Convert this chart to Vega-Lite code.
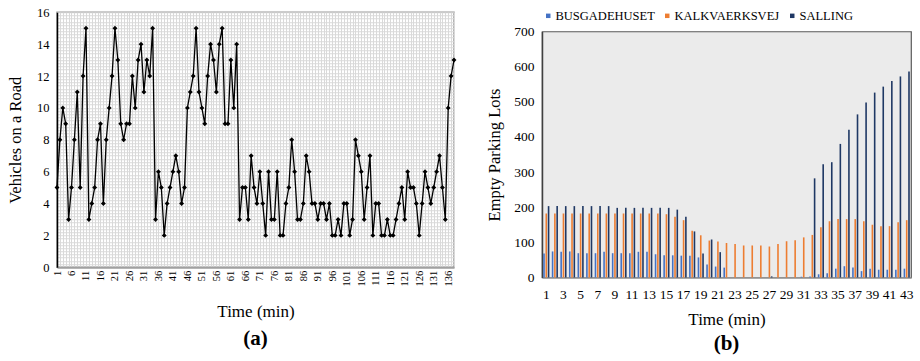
{
  "$schema": "https://vega.github.io/schema/vega-lite/v6.json",
  "background": "white",
  "padding": {"left": 6, "top": 5, "right": 5, "bottom": 1},
  "resolve": {"legend": {"color": "independent"}},
  "center": true,
  "spacing": 25,
  "config": {
    "font": "Liberation Serif",
    "axis": {"labelFont": "Liberation Serif", "titleFont": "Liberation Serif", "labelColor": "#000", "titleColor": "#000", "titleFontWeight": "normal"},
    "legend": {"labelFont": "Liberation Serif"}
  },
  "datasets": {
    "vehicles": [
      {"t":1,"v":5},{"t":2,"v":8},{"t":3,"v":10},{"t":4,"v":9},{"t":5,"v":3},{"t":6,"v":5},{"t":7,"v":8},{"t":8,"v":11},{"t":9,"v":5},{"t":10,"v":12},
      {"t":11,"v":15},{"t":12,"v":3},{"t":13,"v":4},{"t":14,"v":5},{"t":15,"v":8},{"t":16,"v":9},{"t":17,"v":4},{"t":18,"v":8},{"t":19,"v":10},{"t":20,"v":12},
      {"t":21,"v":15},{"t":22,"v":13},{"t":23,"v":9},{"t":24,"v":8},{"t":25,"v":9},{"t":26,"v":9},{"t":27,"v":12},{"t":28,"v":10},{"t":29,"v":13},{"t":30,"v":14},
      {"t":31,"v":11},{"t":32,"v":13},{"t":33,"v":12},{"t":34,"v":15},{"t":35,"v":3},{"t":36,"v":6},{"t":37,"v":5},{"t":38,"v":2},{"t":39,"v":4},{"t":40,"v":5},
      {"t":41,"v":6},{"t":42,"v":7},{"t":43,"v":6},{"t":44,"v":4},{"t":45,"v":5},{"t":46,"v":10},{"t":47,"v":11},{"t":48,"v":12},{"t":49,"v":15},{"t":50,"v":11},
      {"t":51,"v":10},{"t":52,"v":9},{"t":53,"v":12},{"t":54,"v":14},{"t":55,"v":13},{"t":56,"v":11},{"t":57,"v":14},{"t":58,"v":15},{"t":59,"v":9},{"t":60,"v":9},
      {"t":61,"v":13},{"t":62,"v":10},{"t":63,"v":14},{"t":64,"v":3},{"t":65,"v":5},{"t":66,"v":5},{"t":67,"v":3},{"t":68,"v":7},{"t":69,"v":5},{"t":70,"v":4},
      {"t":71,"v":6},{"t":72,"v":4},{"t":73,"v":2},{"t":74,"v":6},{"t":75,"v":3},{"t":76,"v":3},{"t":77,"v":6},{"t":78,"v":2},{"t":79,"v":2},{"t":80,"v":4},
      {"t":81,"v":5},{"t":82,"v":8},{"t":83,"v":6},{"t":84,"v":3},{"t":85,"v":3},{"t":86,"v":4},{"t":87,"v":7},{"t":88,"v":6},{"t":89,"v":4},{"t":90,"v":4},
      {"t":91,"v":3},{"t":92,"v":4},{"t":93,"v":4},{"t":94,"v":3},{"t":95,"v":4},{"t":96,"v":2},{"t":97,"v":2},{"t":98,"v":3},{"t":99,"v":2},{"t":100,"v":4},
      {"t":101,"v":4},{"t":102,"v":2},{"t":103,"v":3},{"t":104,"v":8},{"t":105,"v":7},{"t":106,"v":6},{"t":107,"v":3},{"t":108,"v":5},{"t":109,"v":7},{"t":110,"v":2},
      {"t":111,"v":4},{"t":112,"v":4},{"t":113,"v":2},{"t":114,"v":2},{"t":115,"v":3},{"t":116,"v":2},{"t":117,"v":2},{"t":118,"v":3},{"t":119,"v":4},{"t":120,"v":5},
      {"t":121,"v":3},{"t":122,"v":6},{"t":123,"v":5},{"t":124,"v":5},{"t":125,"v":4},{"t":126,"v":2},{"t":127,"v":4},{"t":128,"v":6},{"t":129,"v":5},{"t":130,"v":4},
      {"t":131,"v":5},{"t":132,"v":6},{"t":133,"v":7},{"t":134,"v":5},{"t":135,"v":3},{"t":136,"v":10},{"t":137,"v":12},{"t":138,"v":13}
    ],
    "parking": [
      {"t":1,"lot":"BUSGADEHUSET","n":68},{"t":1,"lot":"KALKVAERKSVEJ","n":182},{"t":1,"lot":"SALLING","n":203},
      {"t":2,"lot":"BUSGADEHUSET","n":74},{"t":2,"lot":"KALKVAERKSVEJ","n":182},{"t":2,"lot":"SALLING","n":203},
      {"t":3,"lot":"BUSGADEHUSET","n":73},{"t":3,"lot":"KALKVAERKSVEJ","n":182},{"t":3,"lot":"SALLING","n":203},
      {"t":4,"lot":"BUSGADEHUSET","n":74},{"t":4,"lot":"KALKVAERKSVEJ","n":182},{"t":4,"lot":"SALLING","n":203},
      {"t":5,"lot":"BUSGADEHUSET","n":69},{"t":5,"lot":"KALKVAERKSVEJ","n":182},{"t":5,"lot":"SALLING","n":203},
      {"t":6,"lot":"BUSGADEHUSET","n":69},{"t":6,"lot":"KALKVAERKSVEJ","n":182},{"t":6,"lot":"SALLING","n":203},
      {"t":7,"lot":"BUSGADEHUSET","n":69},{"t":7,"lot":"KALKVAERKSVEJ","n":182},{"t":7,"lot":"SALLING","n":203},
      {"t":8,"lot":"BUSGADEHUSET","n":73},{"t":8,"lot":"KALKVAERKSVEJ","n":182},{"t":8,"lot":"SALLING","n":203},
      {"t":9,"lot":"BUSGADEHUSET","n":69},{"t":9,"lot":"KALKVAERKSVEJ","n":182},{"t":9,"lot":"SALLING","n":198},
      {"t":10,"lot":"BUSGADEHUSET","n":69},{"t":10,"lot":"KALKVAERKSVEJ","n":182},{"t":10,"lot":"SALLING","n":198},
      {"t":11,"lot":"BUSGADEHUSET","n":69},{"t":11,"lot":"KALKVAERKSVEJ","n":182},{"t":11,"lot":"SALLING","n":198},
      {"t":12,"lot":"BUSGADEHUSET","n":73},{"t":12,"lot":"KALKVAERKSVEJ","n":182},{"t":12,"lot":"SALLING","n":198},
      {"t":13,"lot":"BUSGADEHUSET","n":73},{"t":13,"lot":"KALKVAERKSVEJ","n":182},{"t":13,"lot":"SALLING","n":198},
      {"t":14,"lot":"BUSGADEHUSET","n":66},{"t":14,"lot":"KALKVAERKSVEJ","n":182},{"t":14,"lot":"SALLING","n":198},
      {"t":15,"lot":"BUSGADEHUSET","n":63},{"t":15,"lot":"KALKVAERKSVEJ","n":180},{"t":15,"lot":"SALLING","n":198},
      {"t":16,"lot":"BUSGADEHUSET","n":63},{"t":16,"lot":"KALKVAERKSVEJ","n":173},{"t":16,"lot":"SALLING","n":193},
      {"t":17,"lot":"BUSGADEHUSET","n":62},{"t":17,"lot":"KALKVAERKSVEJ","n":163},{"t":17,"lot":"SALLING","n":173},
      {"t":18,"lot":"BUSGADEHUSET","n":62},{"t":18,"lot":"KALKVAERKSVEJ","n":133},{"t":18,"lot":"SALLING","n":131},
      {"t":19,"lot":"BUSGADEHUSET","n":57},{"t":19,"lot":"KALKVAERKSVEJ","n":120},{"t":19,"lot":"SALLING","n":68},
      {"t":20,"lot":"BUSGADEHUSET","n":37},{"t":20,"lot":"KALKVAERKSVEJ","n":105},{"t":20,"lot":"SALLING","n":108},
      {"t":21,"lot":"BUSGADEHUSET","n":31},{"t":21,"lot":"KALKVAERKSVEJ","n":102},{"t":21,"lot":"SALLING","n":72},
      {"t":22,"lot":"BUSGADEHUSET","n":28},{"t":22,"lot":"KALKVAERKSVEJ","n":98},{"t":22,"lot":"SALLING","n":0},
      {"t":23,"lot":"BUSGADEHUSET","n":0},{"t":23,"lot":"KALKVAERKSVEJ","n":95},{"t":23,"lot":"SALLING","n":0},
      {"t":24,"lot":"BUSGADEHUSET","n":0},{"t":24,"lot":"KALKVAERKSVEJ","n":91},{"t":24,"lot":"SALLING","n":0},
      {"t":25,"lot":"BUSGADEHUSET","n":0},{"t":25,"lot":"KALKVAERKSVEJ","n":91},{"t":25,"lot":"SALLING","n":0},
      {"t":26,"lot":"BUSGADEHUSET","n":0},{"t":26,"lot":"KALKVAERKSVEJ","n":91},{"t":26,"lot":"SALLING","n":0},
      {"t":27,"lot":"BUSGADEHUSET","n":0},{"t":27,"lot":"KALKVAERKSVEJ","n":88},{"t":27,"lot":"SALLING","n":3},
      {"t":28,"lot":"BUSGADEHUSET","n":0},{"t":28,"lot":"KALKVAERKSVEJ","n":95},{"t":28,"lot":"SALLING","n":0},
      {"t":29,"lot":"BUSGADEHUSET","n":0},{"t":29,"lot":"KALKVAERKSVEJ","n":103},{"t":29,"lot":"SALLING","n":0},
      {"t":30,"lot":"BUSGADEHUSET","n":0},{"t":30,"lot":"KALKVAERKSVEJ","n":106},{"t":30,"lot":"SALLING","n":0},
      {"t":31,"lot":"BUSGADEHUSET","n":2},{"t":31,"lot":"KALKVAERKSVEJ","n":114},{"t":31,"lot":"SALLING","n":0},
      {"t":32,"lot":"BUSGADEHUSET","n":3},{"t":32,"lot":"KALKVAERKSVEJ","n":121},{"t":32,"lot":"SALLING","n":282},
      {"t":33,"lot":"BUSGADEHUSET","n":9},{"t":33,"lot":"KALKVAERKSVEJ","n":143},{"t":33,"lot":"SALLING","n":322},
      {"t":34,"lot":"BUSGADEHUSET","n":12},{"t":34,"lot":"KALKVAERKSVEJ","n":160},{"t":34,"lot":"SALLING","n":328},
      {"t":35,"lot":"BUSGADEHUSET","n":25},{"t":35,"lot":"KALKVAERKSVEJ","n":166},{"t":35,"lot":"SALLING","n":380},
      {"t":36,"lot":"BUSGADEHUSET","n":32},{"t":36,"lot":"KALKVAERKSVEJ","n":166},{"t":36,"lot":"SALLING","n":420},
      {"t":37,"lot":"BUSGADEHUSET","n":28},{"t":37,"lot":"KALKVAERKSVEJ","n":166},{"t":37,"lot":"SALLING","n":464},
      {"t":38,"lot":"BUSGADEHUSET","n":18},{"t":38,"lot":"KALKVAERKSVEJ","n":160},{"t":38,"lot":"SALLING","n":498},
      {"t":39,"lot":"BUSGADEHUSET","n":25},{"t":39,"lot":"KALKVAERKSVEJ","n":150},{"t":39,"lot":"SALLING","n":526},
      {"t":40,"lot":"BUSGADEHUSET","n":22},{"t":40,"lot":"KALKVAERKSVEJ","n":146},{"t":40,"lot":"SALLING","n":543},
      {"t":41,"lot":"BUSGADEHUSET","n":22},{"t":41,"lot":"KALKVAERKSVEJ","n":146},{"t":41,"lot":"SALLING","n":559},
      {"t":42,"lot":"BUSGADEHUSET","n":22},{"t":42,"lot":"KALKVAERKSVEJ","n":157},{"t":42,"lot":"SALLING","n":572},
      {"t":43,"lot":"BUSGADEHUSET","n":25},{"t":43,"lot":"KALKVAERKSVEJ","n":163},{"t":43,"lot":"SALLING","n":586}
    ]
  },
  "hconcat": [
    {
      "width": 397,
      "height": 255,
      "data": {"name": "vehicles"},
      "title": {"text": "(a)", "orient": "bottom", "fontSize": 21, "fontWeight": "bold", "font": "Liberation Serif", "color": "#000", "offset": 9, "subtitle": " ", "subtitleFontSize": 14, "subtitlePadding": 10},
      "view": {"stroke": "#9a9a9a", "strokeWidth": 1.5, "fill": "white"},
      "mark": {"type": "line", "color": "#000", "strokeWidth": 1.3, "point": {"filled": true, "shape": "diamond", "size": 24, "color": "#000"}},
      "encoding": {
        "x": {
          "field": "t", "type": "quantitative",
          "scale": {"domain": [1, 138], "nice": false, "zero": false},
          "axis": {
            "values": [1,2,3,4,5,6,7,8,9,10,11,12,13,14,15,16,17,18,19,20,21,22,23,24,25,26,27,28,29,30,31,32,33,34,35,36,37,38,39,40,41,42,43,44,45,46,47,48,49,50,51,52,53,54,55,56,57,58,59,60,61,62,63,64,65,66,67,68,69,70,71,72,73,74,75,76,77,78,79,80,81,82,83,84,85,86,87,88,89,90,91,92,93,94,95,96,97,98,99,100,101,102,103,104,105,106,107,108,109,110,111,112,113,114,115,116,117,118,119,120,121,122,123,124,125,126,127,128,129,130,131,132,133,134,135,136,137,138],
            "labelExpr": "(datum.value - 1) % 5 == 0 ? '' + datum.value : ''",
            "labelAngle": 270, "labelFontSize": 10.5, "labelOverlap": false, "labelPadding": 3,
            "labelFont": "Liberation Serif", "titleFont": "Liberation Serif",
            "ticks": false, "grid": true, "gridColor": "#d9d9d9", "gridWidth": 1,
            "domainColor": "#a0a0a0", "domainWidth": 2,
            "title": "Time (min)", "titleFontSize": 17, "titlePadding": 17
          }
        },
        "y": {
          "field": "v", "type": "quantitative",
          "scale": {"domain": [0, 16], "nice": false},
          "axis": {
            "values": [0,0.2,0.4,0.6,0.8,1,1.2,1.4,1.6,1.8,2,2.2,2.4,2.6,2.8,3,3.2,3.4,3.6,3.8,4,4.2,4.4,4.6,4.8,5,5.2,5.4,5.6,5.8,6,6.2,6.4,6.6,6.8,7,7.2,7.4,7.6,7.8,8,8.2,8.4,8.6,8.8,9,9.2,9.4,9.6,9.8,10,10.2,10.4,10.6,10.8,11,11.2,11.4,11.6,11.8,12,12.2,12.4,12.6,12.8,13,13.2,13.4,13.6,13.8,14,14.2,14.4,14.6,14.8,15,15.2,15.4,15.6,15.8,16],
            "labelExpr": "datum.value % 2 == 0 ? '' + datum.value : ''",
            "labelFontSize": 12.5, "labelPadding": 8, "labelOverlap": false,
            "labelFont": "Liberation Serif", "titleFont": "Liberation Serif",
            "ticks": false, "grid": true, "gridColor": "#d9d9d9", "gridWidth": 1,
            "domainColor": "#000", "domainWidth": 1.5,
            "title": "Vehicles on a Road", "titleFontSize": 16.5, "titlePadding": 13
          }
        }
      }
    },
    {
      "width": 369,
      "height": 246,
      "data": {"name": "parking"},
      "title": {"text": "(b)", "orient": "bottom", "fontSize": 21, "fontWeight": "bold", "font": "Liberation Serif", "color": "#000", "offset": 5},
      "view": {"stroke": "#5a5a5a", "strokeWidth": 1.2, "fill": "#ebebeb"},
      "mark": {"type": "bar"},
      "encoding": {
        "x": {
          "field": "t", "type": "ordinal",
          "scale": {"paddingInner": 0.28, "paddingOuter": 0.14},
          "axis": {
            "values": [1,3,5,7,9,11,13,15,17,19,21,23,25,27,29,31,33,35,37,39,41,43],
            "labelAngle": 0, "labelFontSize": 13.5, "labelPadding": 10,
            "labelFont": "Liberation Serif", "titleFont": "Liberation Serif",
            "ticks": false, "grid": false,
            "domainColor": "#9a9a9a", "domainWidth": 1.5,
            "title": "Time (min)", "titleFontSize": 17, "titlePadding": 11
          }
        },
        "xOffset": {"field": "lot", "type": "nominal", "scale": {"paddingInner": 0.3}},
        "y": {
          "field": "n", "type": "quantitative",
          "scale": {"domain": [0, 700], "nice": false},
          "axis": {
            "values": [0,100,200,300,400,500,600,700],
            "labelFontSize": 13.5, "labelPadding": 8,
            "labelFont": "Liberation Serif", "titleFont": "Liberation Serif",
            "ticks": false, "grid": false,
            "domainColor": "#404040", "domainWidth": 1.5,
            "title": "Empty Parking Lots", "titleFontSize": 16.5, "titlePadding": 11
          }
        },
        "color": {
          "field": "lot", "type": "nominal",
          "scale": {"domain": ["BUSGADEHUSET", "KALKVAERKSVEJ", "SALLING"], "range": ["#4472C4", "#ED7D31", "#1F3864"]},
          "legend": {"orient": "none", "legendX": 0, "legendY": -22, "title": null, "direction": "horizontal", "symbolType": "square", "symbolSize": 20, "labelFontSize": 12.5, "labelFont": "Liberation Serif", "labelColor": "#000", "labelOffset": 1, "columnPadding": 6, "padding": 0}
        }
      }
    }
  ]
}
